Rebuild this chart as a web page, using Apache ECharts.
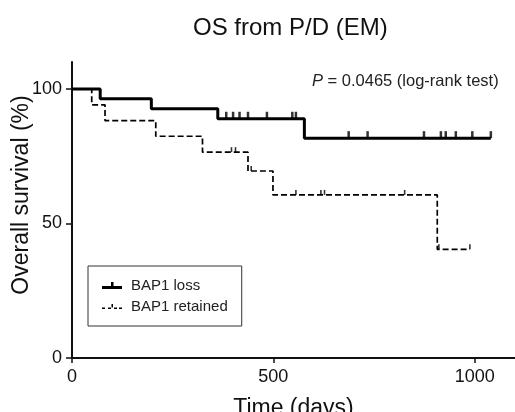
<!DOCTYPE html>
<html>
<head>
<meta charset="utf-8">
<title>OS from P/D (EM)</title>
<script src="https://cdn.jsdelivr.net/npm/echarts@6/dist/echarts.min.js"></script>
<style>
  html, body { margin: 0; padding: 0; background: #fff; }
  #chart { width: 515px; height: 412px; }
</style>
</head>
<body>
<div id="chart"></div>
<script>
// Kaplan-Meier steps (days, % surviving)
const lossTimes = [0, 70, 197, 362, 577, 1040]
const lossSurv = [100, 96.3, 92.6, 88.9, 81.7, 81.7]
const lossCensorTimes = [383, 400, 416, 437, 484, 547, 556, 687, 734, 874, 916, 928, 953, 994, 1040]
const lossCensorSurv = [88.9, 88.9, 88.9, 88.9, 88.9, 88.9, 88.9, 81.7, 81.7, 81.7, 81.7, 81.7, 81.7, 81.7, 81.7]

const retainedTimes = [0, 49, 82, 208, 324, 437, 499, 907, 988]
const retainedSurv = [100, 94.1, 88.2, 82.4, 76.5, 69.5, 60.6, 40.4, 40.4]
const retainedCensorTimes = [396, 406, 445, 556, 618, 627, 826, 911, 988]
const retainedCensorSurv = [76.5, 76.5, 69.5, 60.6, 60.6, 60.6, 60.6, 40.4, 40.4]

const xTicks = [0, 500, 1000]
const yTicks = [0, 50, 100]

const FONT = 'Liberation Sans, Arial, sans-serif'

// legend glyphs: a line with a small censor tick on top (20 x 14 box)
const ICON_SOLID = 'path://M0,6.5H20V9.5H0Z M9,2.5H11.5V6.5H9Z'
const ICON_DASHED = 'path://M0,7H3V8.6H0Z M6,7H9V8.6H6Z M12,7H15V8.6H12Z M17,7H20V8.6H17Z M9.5,3.5H11V7H9.5Z'

function pairs(xs, ys) {
  return xs.map((x, i) => [x, ys[i]])
}

const chart = echarts.init(document.getElementById('chart'))

chart.setOption({
  animation: false,
  title: {
    text: 'OS from P/D (EM)',
    left: 188,
    top: 11,
    textStyle: { fontFamily: FONT, fontSize: 24, fontWeight: 'normal', color: '#111' }
  },
  grid: { left: 72, right: 0, top: 62, bottom: 54, outerBoundsMode: 'none' },
  legend: {
    orient: 'vertical',
    left: 88,
    top: 266,
    data: [
      { name: 'BAP1 loss', icon: ICON_SOLID },
      { name: 'BAP1 retained', icon: ICON_DASHED }
    ],
    itemWidth: 20,
    itemHeight: 14,
    itemGap: 6,
    padding: [12, 14, 12, 14],
    borderColor: '#333',
    borderWidth: 1,
    textStyle: { fontFamily: FONT, fontSize: 15, color: '#222', padding: [0, 0, 0, 4] }
  },
  graphic: [
    {
      // y axis name, sits a bit above the middle of the axis like the original
      type: 'text',
      x: 22,
      y: 195,
      rotation: Math.PI / 2,
      style: {
        text: 'Overall survival (%)',
        fontFamily: FONT,
        fontSize: 23,
        fill: '#111',
        align: 'center',
        verticalAlign: 'middle'
      }
    },
    {
      type: 'text',
      x: 312,
      y: 81,
      style: {
        text: '{i|P} = 0.0465 (log-rank test)',
        fontFamily: FONT,
        fontSize: 16.5,
        fill: '#222',
        verticalAlign: 'middle',
        rich: {
          i: { fontFamily: FONT, fontSize: 16.5, fontStyle: 'italic', fill: '#222' }
        }
      }
    }
  ],
  xAxis: {
    type: 'value',
    min: 0,
    max: 1100,
    interval: 500,
    name: 'Time (days)',
    nameLocation: 'middle',
    nameGap: 39,
    nameTextStyle: { fontFamily: FONT, fontSize: 23, color: '#111' },
    axisLine: { lineStyle: { color: '#111', width: 2 } },
    axisTick: { length: 5, lineStyle: { color: '#111', width: 1.5 }, customValues: xTicks },
    axisLabel: {
      margin: 10,
      fontFamily: FONT,
      fontSize: 18,
      color: '#111',
      customValues: xTicks,
      formatter: (v) => String(v)
    },
    splitLine: { show: false }
  },
  yAxis: {
    type: 'value',
    min: 0,
    max: 110,
    interval: 50,
    axisLine: { show: true, lineStyle: { color: '#111', width: 2 } },
    axisTick: { show: true, length: 6, lineStyle: { color: '#111', width: 1.5 }, customValues: yTicks },
    axisLabel: { margin: 10, fontFamily: FONT, fontSize: 18, color: '#111', customValues: yTicks },
    splitLine: { show: false }
  },
  series: [
    {
      name: 'BAP1 loss',
      type: 'line',
      step: 'end',
      symbol: 'none',
      lineStyle: { color: '#000', width: 3 },
      itemStyle: { color: '#000' },
      data: pairs(lossTimes, lossSurv)
    },
    {
      name: 'BAP1 retained',
      type: 'line',
      step: 'end',
      symbol: 'none',
      lineStyle: { color: '#000', width: 1.7, type: [6, 3] },
      itemStyle: { color: '#000' },
      data: pairs(retainedTimes, retainedSurv)
    },
    {
      // censored patients, small ticks on top of the line
      name: 'loss censored',
      type: 'scatter',
      symbol: 'rect',
      symbolSize: [2.5, 7],
      symbolOffset: [0, -3.5],
      itemStyle: { color: '#000' },
      data: pairs(lossCensorTimes, lossCensorSurv)
    },
    {
      name: 'retained censored',
      type: 'scatter',
      symbol: 'rect',
      symbolSize: [1.6, 5],
      symbolOffset: [0, -2.5],
      itemStyle: { color: '#000' },
      data: pairs(retainedCensorTimes, retainedCensorSurv)
    }
  ]
})
</script>
</body>
</html>
